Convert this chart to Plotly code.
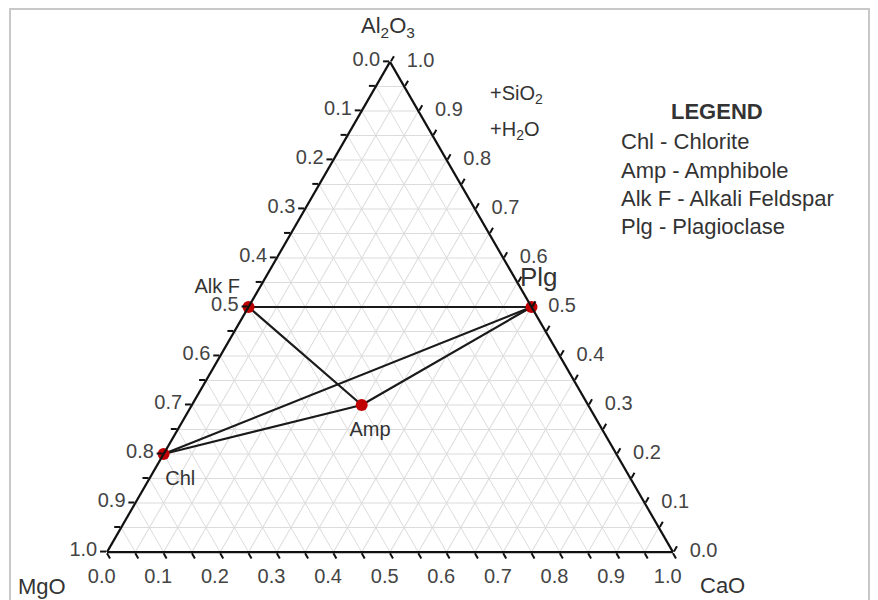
import plotly.graph_objects as go

# ---- data ----
minerals = ["Chl", "Amp", "Alk F", "Plg"]
al2o3 = [0.2, 0.3, 0.5, 0.5]
mgo = [0.8, 0.4, 0.5, 0.0]
cao = [0.0, 0.3, 0.0, 0.5]

# tie lines between phases
tie_pairs = [("Alk F", "Plg"), ("Alk F", "Amp"), ("Chl", "Plg"), ("Chl", "Amp"), ("Amp", "Plg")]

grid_vals = [0.0, 0.05, 0.1, 0.15, 0.2, 0.25, 0.3, 0.35, 0.4, 0.45, 0.5,
             0.55, 0.6, 0.65, 0.7, 0.75, 0.8, 0.85, 0.9, 0.95, 1.0]
major_labels = ["1.0", "", "0.9", "", "0.8", "", "0.7", "", "0.6", "", "0.5",
                "", "0.4", "", "0.3", "", "0.2", "", "0.1", "", "0.0"]
right_vals = [0.0, 0.1, 0.2, 0.3, 0.4, 0.5, 0.6, 0.7, 0.8, 0.9, 1.0]
right_labels = ["0.0", "0.1", "0.2", "0.3", "0.4", "0.5", "0.6", "0.7", "0.8", "0.9", "1.0"]

legend_lines = ["Chl - Chlorite", "Amp - Amphibole", "Alk F - Alkali Feldspar", "Plg - Plagioclase"]

FONT = "Liberation Sans, Arial, sans-serif"
TXT = "#333333"
TICKFONT = dict(family=FONT, size=20, color="#444444")
NB = "&nbsp;"

# page has an 8px body margin: figure is placed at (8, 8) in the window
W, H, OFF = 870, 592, 8
def X(px):
    return (px - OFF) / W
def Y(py):
    return 1 - (py - OFF) / H

# ---- build tie-line trace ----
idx = {m: i for i, m in enumerate(minerals)}
la, lb, lc = [], [], []
for p, q in tie_pairs:
    for m in (p, q):
        la.append(al2o3[idx[m]]); lb.append(mgo[idx[m]]); lc.append(cao[idx[m]])
    la.append(None); lb.append(None); lc.append(None)

fig = go.Figure()
fig.add_trace(go.Scatterternary(
    a=la, b=lb, c=lc, mode="lines",
    line=dict(color="#1a1a1a", width=2.2),
    hoverinfo="skip", showlegend=False, connectgaps=False, cliponaxis=False,
))
# phase points
fig.add_trace(go.Scatterternary(
    a=al2o3, b=mgo, c=cao, mode="markers",
    marker=dict(color="#c00000", size=12, line=dict(width=0)),
    showlegend=False, cliponaxis=False,
))
# phase labels (invisible markers only set the label offset)
fig.add_trace(go.Scatterternary(
    a=al2o3, b=mgo, c=cao, mode="markers+text",
    text=[NB * 6 + "Chl", NB * 3 + "Amp", "Alk F", NB * 2 + "Plg"],
    textposition=["bottom center", "bottom center", "top left", "top center"],
    textfont=dict(family=FONT, size=[20, 20, 20, 26], color=TXT),
    marker=dict(size=[24, 24, 12, 22], opacity=0),
    hoverinfo="skip", showlegend=False, cliponaxis=False,
))
# right-edge (Al2O3) tick labels, written horizontally beside the edge
fig.add_trace(go.Scatterternary(
    a=right_vals, b=[0.0] * len(right_vals), c=[1 - v for v in right_vals],
    mode="text", text=[NB * 3 + t for t in right_labels],
    textposition="middle right", textfont=TICKFONT,
    hoverinfo="skip", showlegend=False, cliponaxis=False,
))

axis_common = dict(
    tickmode="array", tickvals=grid_vals, ticktext=major_labels,
    showline=True, linecolor="#111111", linewidth=2.2,
    showgrid=True, gridcolor="#dcdcdc", gridwidth=1,
    ticks="outside", ticklen=6, tickwidth=1.8, tickcolor="#111111",
    tickfont=TICKFONT,
    min=0, title=dict(text=""),
)
baxis = dict(axis_common, ticktext=[(t + NB * 3) if t else "" for t in major_labels])
caxis = dict(axis_common, ticktext=[""] * len(grid_vals))

fig.update_layout(
    width=W, height=H,
    paper_bgcolor="white", plot_bgcolor="white",
    margin=dict(l=0, r=0, t=0, b=0),
    showlegend=False,
    ternary=dict(
        sum=1,
        bgcolor="white",
        domain=dict(x=[X(107), X(673)], y=[Y(553), Y(61)]),
        aaxis=axis_common, baxis=baxis, caxis=caxis,
    ),
)

annotations = [
    dict(px=388, py=27, text="Al<sub>2</sub>O<sub>3</sub>", xanchor="center", size=22),
    dict(px=42, py=586, text="MgO", xanchor="center", size=22),
    dict(px=722, py=585, text="CaO", xanchor="center", size=22),
    dict(px=488, py=94, text="+SiO<sub>2</sub>", xanchor="left", size=20),
    dict(px=488, py=130, text="+H<sub>2</sub>O", xanchor="left", size=20),
    dict(px=717, py=111, text="<b>LEGEND</b>", xanchor="center", size=22),
]
for i, line in enumerate(legend_lines):
    annotations.append(dict(px=619, py=142 + i * 28.3, text=line, xanchor="left", size=22))
anns = []
for an in annotations:
    sz = an.pop("size")
    px = an.pop("px"); py = an.pop("py")
    an.update(x=X(px), y=Y(py), xref="paper", yref="paper", yanchor="middle", showarrow=False,
              font=dict(family=FONT, size=sz, color=TXT))
    anns.append(an)
fig.update_layout(annotations=anns)

# outer frame of the picture (left, top and right borders)
fig.add_shape(type="rect", xref="paper", yref="paper",
              x0=X(10), x1=X(869), y0=-0.05, y1=1 - 1 / H,
              line=dict(color="#c8c8c8", width=2), fillcolor="rgba(0,0,0,0)")

fig.write_html("out.html")
